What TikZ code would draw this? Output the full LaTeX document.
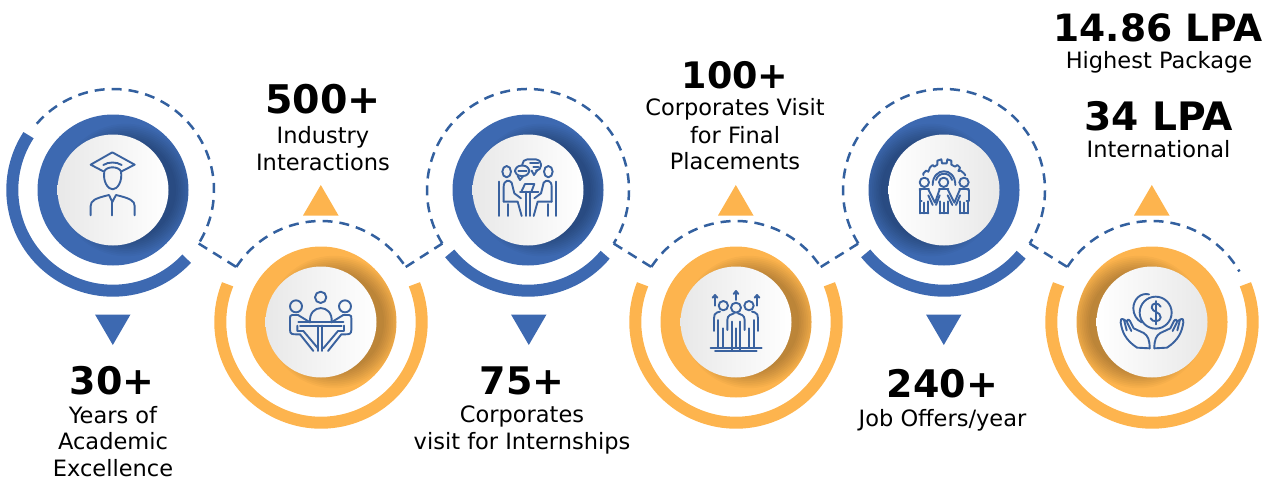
\documentclass[tikz,border=0pt]{standalone}
\usepackage{fontspec}
\setmainfont{DejaVu Sans}
\definecolor{bluering}{HTML}{3D69B1}
\definecolor{orangering}{HTML}{FDB44E}
\definecolor{dashblue}{HTML}{33609F}
\definecolor{iconblue}{HTML}{3A629F}
\tikzset{
  dashline/.style={draw=dashblue,line width=2.5pt,dash pattern=on 10pt off 7pt},
  iconline/.style={draw=iconblue,line width=1.9pt,line cap=round,line join=round},
  headtxt/.style={anchor=base,inner sep=0pt,font=\fontsize{38}{38}\selectfont\bfseries},
  bodytxt/.style={anchor=base,inner sep=0pt,font=\fontsize{22.5}{24}\selectfont},
}
% name, x, y, colour, shadow direction
\newcommand{\ringdisc}[5]{%
  \coordinate (#1) at (#2,#3);
  \fill[#4] (#1) circle[radius=75.5pt];
  \begin{scope}
    \clip (#1) circle[radius=75.5pt];
    \foreach \k in {0,...,9}{
      \fill[black,opacity=0.028] ([xshift=#5*13pt]#1) circle[radius=50pt+\k*1.8pt];
    }
  \end{scope}
  \ifnum#5>0
    \shade[left color=black!9,right color=white] (#1) circle[radius=55.5pt];
  \else
    \shade[left color=white,right color=black!9] (#1) circle[radius=55.5pt];
  \fi
}
% centre, start, end, colour
\newcommand{\thickarc}[4]{%
  \draw[#4,line width=12pt] ([shift={(#2:100.7pt)}]#1) arc[start angle=#2,end angle=#3,radius=100.7pt];
}
\newcommand{\dasharc}[4]{%
  \coordinate (#4s) at ([shift={(#2:101pt)}]#1);
  \coordinate (#4e) at ([shift={(#3:101pt)}]#1);
  \draw[dashline] (#4s) arc[start angle=#2,end angle=#3,radius=101pt];
}
\newcommand{\lbl}[5]{\node[#1] (#2) at (#3,483-#4) {#5};}
\begin{document}
\begin{tikzpicture}[x=1pt,y=1pt]
\useasboundingbox (0,0) rectangle (1273,483);
% rings
\ringdisc{c1}{113}{293}{bluering}{1}
\ringdisc{c2}{321}{161}{orangering}{1}
\ringdisc{c3}{528}{293}{bluering}{1}
\ringdisc{c4}{736}{161}{orangering}{1}
\ringdisc{c5}{944}{293}{bluering}{-1}
\ringdisc{c6}{1152}{161}{orangering}{-1}
% thick arcs
\thickarc{c1}{147}{317}{bluering}
\thickarc{c2}{158}{382}{orangering}
\thickarc{c3}{219}{320}{bluering}
\thickarc{c4}{158}{382}{orangering}
\thickarc{c5}{219}{320}{bluering}
\thickarc{c6}{158}{382}{orangering}
% dashed arcs
\dasharc{c1}{139}{-32}{d1}
\dasharc{c2}{147}{33}{d2}
\dasharc{c3}{212}{-32}{d3}
\dasharc{c4}{147}{33}{d4}
\dasharc{c5}{212}{-32}{d5}
\dasharc{c6}{147}{30}{d6}
\draw[dashline] (d1e) -- (d2s);
\draw[dashline] (d2e) -- (d3s);
\draw[dashline] (d3e) -- (d4s);
\draw[dashline] (d4e) -- (d5s);
\draw[dashline] (d5e) -- (d6s);
% triangles
\fill[bluering] (95,168.5) -- (130.5,168.5) -- (112.8,138) -- cycle;
\fill[bluering] (511,168.5) -- (546.5,168.5) -- (528.8,138) -- cycle;
\fill[bluering] (926,168.5) -- (961.5,168.5) -- (943.8,138) -- cycle;
\fill[orangering] (303,267.5) -- (338.5,267.5) -- (320.8,298) -- cycle;
\fill[orangering] (718,267.5) -- (753.5,267.5) -- (735.8,298) -- cycle;
\fill[orangering] (1134,267.5) -- (1169.5,267.5) -- (1151.8,298) -- cycle;
% texts
\lbl{headtxt}{t1}{112}{394}{30+}
\lbl{bodytxt}{t1a}{113}{423}{Years of}
\lbl{bodytxt}{t1b}{113}{449.5}{Academic}
\lbl{bodytxt}{t1c}{113}{476}{Excellence}
\lbl{headtxt,font=\fontsize{39.5}{39}\selectfont\bfseries}{t2}{323}{113.5}{500+}
\lbl{bodytxt}{t2a}{323}{143}{Industry}
\lbl{bodytxt}{t2b}{323}{170}{Interactions}
\lbl{headtxt}{t3}{522}{394}{75+}
\lbl{bodytxt}{t3a}{522}{422}{Corporates}
\lbl{bodytxt}{t3b}{522}{449}{visit for Internships}
\lbl{headtxt,font=\fontsize{36.5}{39}\selectfont\bfseries}{t4}{735}{88.5}{100+}
\lbl{bodytxt}{t4a}{735}{116}{Corporates Visit}
\lbl{bodytxt}{t4b}{735}{143}{for Final}
\lbl{bodytxt}{t4c}{735}{169}{Placements}
\lbl{headtxt}{t5}{942.5}{397}{240+}
\lbl{bodytxt}{t5a}{942.5}{426}{Job Offers/year}
\lbl{headtxt,font=\fontsize{37.6}{39}\selectfont\bfseries}{t6}{1158}{42}{14.86 LPA}
\lbl{bodytxt}{t6a}{1159}{69}{Highest Package}
\lbl{headtxt,font=\fontsize{39.2}{39}\selectfont\bfseries}{t7}{1158.5}{130}{34 LPA}
\lbl{bodytxt}{t7a}{1158.5}{157}{International}
% icon 1: graduate
\begin{scope}[shift={(60,353)},x=.3333pt,y=-.3333pt]
\draw[iconline] (130,124) -- (92,104) -- (157,67) -- (224,104) -- (185,124);
\draw[iconline] (130,105) .. controls (145,95) and (170,95) .. (185,105);
\draw[iconline] (133,124) .. controls (140,108) and (175,108) .. (183,124) .. controls (188,155) and (172,178) .. (158,178) .. controls (144,178) and (128,155) .. (133,124);
\draw[iconline] (92,256) -- (92,228) .. controls (92,212) and (105,205) .. (147,195) -- (157,216) -- (168,195) .. controls (210,205) and (224,212) .. (224,228) -- (224,256);
\draw[iconline] (157,216) -- (157,256);
\end{scope}
% icon 2: meeting
\begin{scope}[shift={(265,218)},x=.3333pt,y=-.3333pt]
\draw[iconline] (93,124) circle[radius=18];
\draw[iconline] (167,97) circle[radius=17];
\draw[iconline] (240,124) circle[radius=18];
\draw[iconline] (135,172) .. controls (130,115) and (205,115) .. (200,172);
\draw[iconline] (100,172) -- (235,172);
\draw[iconline] (105,182) -- (230,182);
\draw[iconline] (160,182) -- (160,258);
\draw[iconline] (172,182) -- (172,258);
\foreach \s in {1,-1}{
\begin{scope}[shift={(167,0)},xscale=\s]
\draw[iconline] (-68,150) -- (-85,150) .. controls (-92,150) and (-92,155) .. (-92,160) -- (-92,195) .. controls (-92,208) and (-85,208) .. (-72,208) -- (-62,208) -- (-22,258);
\draw[iconline] (-68,150) -- (-32,172);
\draw[iconline] (-70,182) -- (-70,198) -- (-52,198) -- (-8,250);
\end{scope}}
\end{scope}
% icon 3: conversation
\begin{scope}[shift={(475,353)},x=.3333pt,y=-.3333pt]
\draw[iconline] (95,125) ellipse[x radius=13,y radius=17];
\draw[iconline] (220,125) ellipse[x radius=13,y radius=17];
\draw[iconline,rounded corners=6pt] (120,107) rectangle (163,138);
\draw[iconline] (128,138) -- (135,150) -- (145,138);
\draw[iconline] (130,122) -- (155,122);
\draw[iconline,rounded corners=5pt] (142,104) -- (142,88) -- (198,88) -- (198,122) -- (186,122);
\draw[iconline] (186,122) -- (177,135) -- (170,122);
\draw[iconline] (165,100) -- (190,100);
\draw[iconline] (175,110) -- (190,110);
\draw[iconline] (135,185) -- (190,185);
\draw[iconline] (140,183) -- (150,162) -- (178,162) -- (170,183);
\draw[iconline] (152,185) -- (152,258);
\draw[iconline] (164,185) -- (164,258);
\foreach \s in {1,-1}{
\begin{scope}[shift={(158,0)},xscale=\s]
\draw[iconline] (-86,155) -- (-86,258);
\draw[iconline] (-72,215) -- (-72,170) .. controls (-72,150) and (-55,148) .. (-48,158) -- (-40,190) -- (-20,205);
\draw[iconline] (-72,215) -- (-30,215) -- (-18,258);
\draw[iconline] (-60,222) -- (-60,258);
\end{scope}}
\end{scope}
% icon 4: rising team
\begin{scope}[shift={(680,218)},x=.3333pt,y=-.3333pt]
\draw[iconline] (130,122) circle[radius=14];
\draw[iconline] (168,128) circle[radius=15];
\draw[iconline] (207,122) circle[radius=14];
\draw[iconline] (92,248) -- (245,248);
\draw[iconline] (105,258) -- (230,258);
\foreach \s in {1,-1}{
\begin{scope}[shift={(168,0)},xscale=\s]
\draw[iconline] (-63,122) -- (-63,92);
\draw[iconline] (-70,98) -- (-63,90) -- (-56,98);
\draw[iconline] (-26,195) -- (-26,165) .. controls (-26,150) and (-14,148) .. (-6,145);
\draw[iconline] (-13,170) -- (-13,258);
\draw[iconline] (-48,140) -- (-56,142) .. controls (-64,145) and (-66,150) .. (-66,160) -- (-66,198);
\draw[iconline] (-53,165) -- (-53,248);
\draw[iconline] (-40,190) -- (-40,248);
\end{scope}}
\draw[iconline] (168,190) -- (168,248);
\draw[iconline] (168,105) -- (168,80);
\draw[iconline] (161,87) -- (168,78) -- (175,87);
\end{scope}
% icon 5: team and gear
\begin{scope}[shift={(890,353)},x=.3333pt,y=-.3333pt]
\draw[iconline] (100,135) -- (100,130) -- (108,122) -- (115,125) -- (120,112) -- (128,105) -- (133,110) -- (142,104) -- (142,92) -- (154,88) -- (156,100) -- (170,100) -- (172,88) -- (184,92) -- (184,104) -- (195,110) -- (202,105) -- (210,113) -- (205,123) -- (212,122) -- (222,130) -- (226,136);
\draw[iconline] (128,165) .. controls (128,110) and (196,110) .. (196,165);
\draw[iconline] (138,150) .. controls (145,125) and (180,125) .. (186,150);
\foreach \p in {103,161,222}{
\begin{scope}[shift={(\p,0)}]
\draw[iconline] (0,157) circle[radius=14];
\draw[iconline] (-12,250) -- (-12,214);
\draw[iconline] (0,250) -- (0,218);
\draw[iconline] (12,250) -- (12,214);
\draw[iconline] (-12,250) -- (12,250);
\draw[iconline] (-14,176) -- (14,176);
\end{scope}}
\draw[iconline] (89,180) -- (89,212) -- (95,212);
\draw[iconline] (236,180) -- (236,212) -- (230,212);
\draw[iconline] (89,180) -- (97,176);
\draw[iconline] (236,180) -- (228,176);
\draw[iconline] (115,178) -- (135,218) -- (149,178);
\draw[iconline] (115,196) -- (128,225);
\draw[iconline] (149,196) -- (138,225);
\draw[iconline] (173,178) -- (193,218) -- (210,178);
\draw[iconline] (173,196) -- (187,225);
\draw[iconline] (210,196) -- (198,225);
\end{scope}
% icon 6: coin in hands
\begin{scope}[shift={(1095,218)},x=.3333pt,y=-.3333pt]
\draw[iconline] (182,143) circle[radius=48];
\draw[iconline] (162,88) .. controls (135,82) and (115,105) .. (115,130) .. controls (115,148) and (125,165) .. (140,172);
\draw[iconline] (197,125) .. controls (192,112) and (168,112) .. (170,128) .. controls (172,142) and (197,140) .. (197,157) .. controls (197,172) and (170,172) .. (167,160);
\draw[iconline] (182,108) -- (182,178);
\foreach \s in {1,-1}{
\begin{scope}[shift={(171,0)},xscale=\s]
\draw[iconline] (-7,250) .. controls (-7,225) and (-12,212) .. (-25,204) -- (-55,190) -- (-66,168) .. controls (-70,160) and (-78,165) .. (-74,174) -- (-62,198);
\draw[iconline] (-74,170) -- (-84,164) .. controls (-92,158) and (-96,165) .. (-94,172) .. controls (-90,200) and (-80,225) .. (-45,248) -- (-7,250);
\draw[iconline] (-84,164) -- (-76,196);
\end{scope}}
\end{scope}
\end{tikzpicture}
\end{document}
